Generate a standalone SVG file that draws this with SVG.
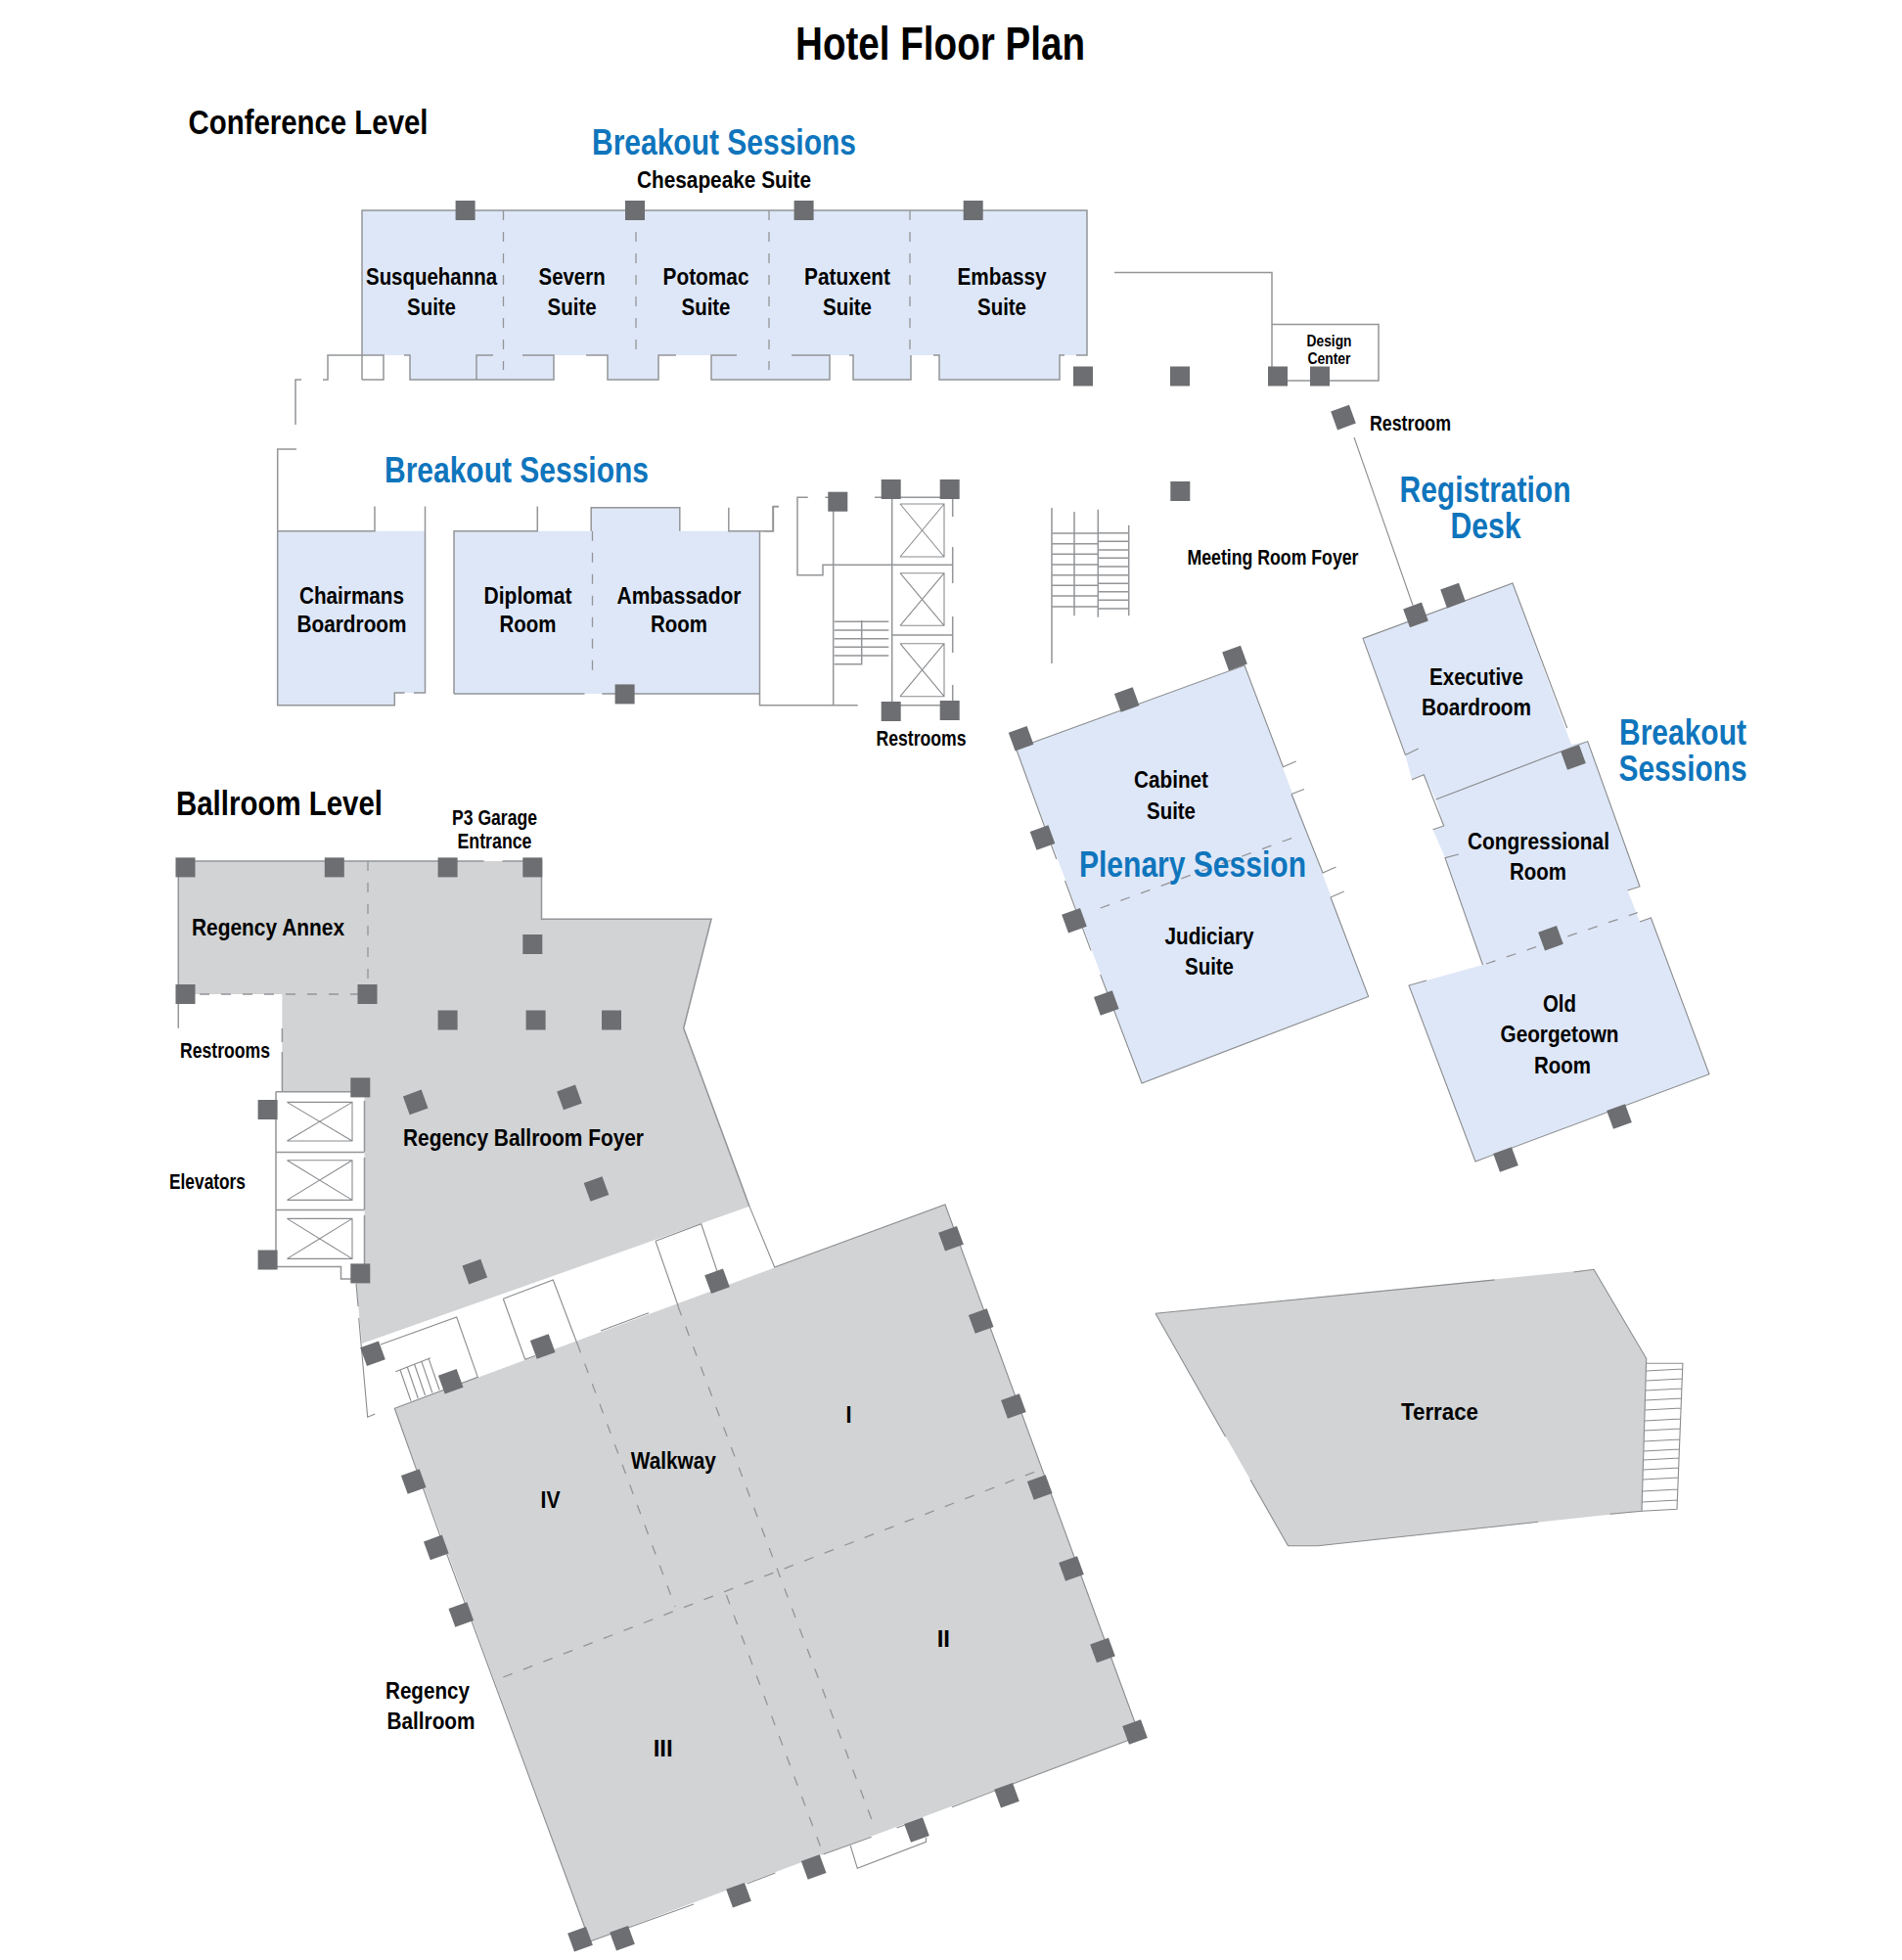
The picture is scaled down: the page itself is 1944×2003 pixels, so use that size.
<svg xmlns="http://www.w3.org/2000/svg" xmlns:xlink="http://www.w3.org/1999/xlink" width="1944" height="2003" viewBox="0 0 1944 2003">
<style>
.blue{fill:#dee7f7;stroke:none}
.gray{fill:#d1d3d4;stroke:none}
.w{fill:none;stroke:#939598;stroke-width:1.5}
.n{fill:none;stroke:#8a8c8f;stroke-width:1.1}
.d{fill:none;stroke:#939598;stroke-width:1.3;stroke-dasharray:10 12}
.col{fill:#6d6e71}
text{font-family:"Liberation Sans",Arial,sans-serif;font-weight:bold;text-anchor:middle;fill:#000}
.l{font-size:24px}
.s{font-size:22px}
.xs{font-size:17px}
.h{font-size:35px}
.b{font-size:36px;fill:#0f75bc}
.t{font-size:48px}
</style>
<defs><rect id="c" x="-10" y="-10" width="20" height="20" class="col"/></defs>
<rect width="1944" height="2003" fill="#fff"/>

<g id="conference-fills">
<path class="blue" d="M370 215H1111V363H1083V388H960V363H931V388H872V363H848V388H727V363H673V388H621V363H566V388H419V363H370Z"/>
<path class="blue" d="M283.700 542.800H434.500V708H403.300V720.800H283.700Z"/>
<path class="blue" d="M464 542.800H604.200V518.800H694.800V542.800H776.500V709H464Z"/>
<path class="blue" d="M1393 652.400L1546 596L1606 761L1622.700 757.600L1676 906L1663.500 910L1676 942L1687.400 938L1747 1097.700L1508 1187L1440 1007L1515.500 986L1477 876.700L1464.500 847.700L1475.700 844L1467.600 817L1455.300 791.700L1443 796.700L1436.400 771.500Z"/>
<path class="blue" d="M1038.500 765L1272 680L1398.700 1018.500L1167 1107Z"/>
</g>
<g id="ballroom-fills">
<path class="gray" d="M182.300 880H553.500V939.300H727L698.700 1050.700L766 1232.900L370 1373L364 1311.700L372.500 1297V1115.700H288.400V1016H182.300Z"/>
<path class="gray" d="M403.300 1439.300L966 1231L1165 1774L603 1984Z"/>
<path class="gray" d="M1181 1342.300L1629 1297.300L1682.700 1388.300L1678 1544.300L1347 1579.700H1316.500Z"/>
</g>

<g id="connectors">
<path class="w" d="M370 388V215H1111V363H1100M1088 363H1083V388H960V363H954M931 363V388H872V363H868M809 363H848V388H727V363H753M691 363H673V388H621V363H599M534 363H566V388H419V363H413M504 363H487V388M330 388H335V363H392V388H370M302 434V388H308"/>
<path class="w" d="M303 459H283.700V720.800H403.300V708H413.600M423 708H434.500V517.500M283.700 542.800H383V517.500"/>
<path class="w" d="M464 709V542.800H549.300V517.500M604.200 542.800V518.800H694.800V542.800M744.800 518.800V542.800H790.400V517.500H796M776.500 542.800V720.800H876.700M464 709H597.500M615.400 709H630M648 709H776.500"/>
<path class="w" d="M780 542.700H790V517.700H795.700M825.700 508.300H815V587.700H841V577.300H973.300M843.300 508.300H848M851.700 512V720.700M894 508.300H980M911.700 508.300V720.700M911.700 720.700H980M973.700 508V528M973.700 559V596M973.700 630V667M973.700 700V720.700M911.700 649H973.700"/>
<path class="n" d="M920 515H965V569H920M920 515L965 569M965 515L920 569M920 585.700H965V639.300H920M920 585.700L965 639.300M965 585.700L920 639.300M920 657.700H965V711.700H920M920 657.700L965 711.700M965 657.700L920 711.700"/>
<path class="w" d="M852.700 635.300H908.300M852.700 644H908.300M852.700 652.700H908.300M852.700 661.300H908.300M852.700 670H908.300M852.700 678.700H880.700V634"/>
<path class="w" d="M1075 519V678M1098 523V629.300M1122.300 520.700V630.700M1153.700 536.700V629.300M1075 545H1122.300M1075 555.700H1122.300M1075 566.300H1122.300M1075 577H1122.300M1075 587.700H1122.300M1075 598.300H1122.300M1075 609H1122.300M1075 620H1122.300M1122.300 544.700H1153.700M1122.300 553.300H1153.700M1122.300 562H1153.700M1122.300 570.300H1153.700M1122.300 579H1153.700M1122.300 587.700H1153.700M1122.300 596.300H1153.700M1122.300 604.700H1153.700M1122.300 613.300H1153.700M1122.300 622H1153.700"/>
<path class="w" d="M1139 278.500H1300V386M1300 331.500H1409V389H1300"/>
<path class="n" d="M1384 447L1444 618.500"/>
<path class="n" d="M1436.400 771.500L1393 652.400L1546 596L1601.700 744M1436.400 771.500L1449.700 765M1443 796.700L1455.300 791.700L1475.700 844L1464.500 847.700M1467.600 817L1622.700 757.600L1676 906L1663.500 910M1491 873L1477 876.700L1515.500 986M1676 942L1687.400 938L1747 1097.700L1508 1187L1440 1007L1458 1002"/>
<path class="n" d="M1079.800 878L1038.500 765L1272 680L1311.400 783.700L1324.700 778M1320 811.500L1333 806.400M1320 811.500L1352 892L1365.500 886M1360 917L1373.700 911M1360 917L1398.700 1018.500L1167 1107L1124.700 996M1115 971.400L1088.500 900"/>
<path class="d" d="M514.500 215V378M650 215V363M786 215V378M930 215V363M605.500 542.800V693M1124.700 928L1321.600 856M1519 985L1673.700 932.700"/>
<path class="w" d="M494.600 880H182.300V1050.700M513.500 880H553.500V939.300H727L698.700 1050.700L766 1232.900"/>
<path class="d" d="M376 880V1007M204 1016H366"/>
<path class="w" d="M288.400 1051V1065M288.400 1075V1115.700M282 1115.700H372.500M282 1115.700V1294.600H348.500V1307H362M282 1177.500H372.500M282 1236.400H372.500M372.500 1125V1177M372.500 1183V1236M372.500 1242V1297"/>
<path class="n" d="M293.400 1126.400H360V1166H293.400M293.400 1126.400L360 1166M360 1126.400L293.400 1166M293.400 1185.700H360V1226.400H293.400M293.400 1185.700L360 1226.400M360 1185.700L293.400 1226.400M293.400 1245.400H360V1286.400H293.400M293.400 1245.400L360 1286.400M360 1245.400L293.400 1286.400"/>
<path class="n" d="M389 1374L466.700 1346L488.300 1407.300L403.300 1439.300L450 1570L603 1984M514.300 1327.300L565.300 1308L590 1373.300M514.300 1327.300L536.700 1389.300L547 1385.500M670 1268.300L716.700 1250.700L733.300 1300M670 1268.300L693.300 1335M766 1232.900L791.700 1295L966 1231L1165 1774L1035.700 1822.700L973 1846.700M614 1360L663 1341.700M364 1311.700L366 1335M366.700 1346.700L375.700 1448.300L383.300 1445"/>
<path class="n" d="M603 1984L709 1946M763.400 1925L792.400 1914M841.500 1895L890.600 1877.300M916.500 1868L926 1864.500M869.200 1886L876.300 1909.300L946.400 1882.300V1878"/>
<path class="n" d="M404.300 1401.700L440 1387.700M409 1400L420 1431.700M416.300 1397L427.300 1429M423.600 1394.200L434.600 1426M430.900 1391.400L441.900 1423.500M438.200 1388.600L449.200 1420.500"/>
<path class="d" d="M590 1373L690 1642M742.400 1630L841.500 1895M693 1335L893 1865M514.300 1714L1066.500 1500.700"/>
<path class="n" d="M1181 1342.300L1527.700 1308M1608.500 1300L1629 1297.300L1682.700 1388.300L1678 1544.300L1645.600 1547.300M1572 1555.300L1347 1579.700H1316.500L1278 1512.300M1252.600 1468.300L1181 1342.300"/>
<path class="n" d="M1682.700 1393.300H1719.900L1714 1542.300L1678 1544.300M1682.500 1401L1719.700 1399M1682.200 1411L1719.300 1409M1681.900 1421L1718.900 1419M1681.600 1431L1718.500 1429M1681.300 1441L1718.100 1439M1680.900 1452L1717.600 1450M1680.600 1462L1717.200 1460M1680.300 1473L1716.800 1471M1680 1483L1716.400 1481M1679.700 1492L1716 1490M1679.400 1502L1715.700 1500M1679.100 1512L1715.300 1510M1678.700 1524L1714.800 1522M1678.400 1535L1714.300 1533"/>
</g>

<g id="columns">
<use href="#c" x="475.600" y="215"/><use href="#c" x="649" y="215"/><use href="#c" x="821.600" y="215"/><use href="#c" x="994.700" y="215"/>
<use href="#c" x="1107" y="384.500"/><use href="#c" x="1206" y="384.500"/><use href="#c" x="1306" y="384.500"/><use href="#c" x="1349" y="384.500"/>
<use href="#c" x="856.300" y="512.700"/><use href="#c" x="910.700" y="500"/><use href="#c" x="970.700" y="500"/><use href="#c" x="910.700" y="727"/><use href="#c" x="970.700" y="726"/>
<use href="#c" x="1206.300" y="502"/><use href="#c" x="638.600" y="709.400"/>
<use href="#c" transform="translate(1373 426.600) rotate(-20)"/>
<use href="#c" transform="translate(1447 628.400) rotate(-20)"/><use href="#c" transform="translate(1485 608.600) rotate(-20)"/><use href="#c" transform="translate(1608 774) rotate(-20)"/><use href="#c" transform="translate(1585 958.800) rotate(-20)"/><use href="#c" transform="translate(1655 1141) rotate(-20)"/><use href="#c" transform="translate(1539 1185) rotate(-20)"/>
<use href="#c" transform="translate(1043.600 754.700) rotate(-20)"/><use href="#c" transform="translate(1151.700 715) rotate(-20)"/><use href="#c" transform="translate(1262 672.600) rotate(-20)"/><use href="#c" transform="translate(1065.500 856) rotate(-20)"/><use href="#c" transform="translate(1098 940.700) rotate(-20)"/><use href="#c" transform="translate(1130.800 1025) rotate(-20)"/>
<use href="#c" x="189.500" y="886.400"/><use href="#c" x="341.800" y="886.400"/><use href="#c" x="457.600" y="886.400"/><use href="#c" x="544.300" y="886.400"/><use href="#c" x="544.300" y="965"/><use href="#c" x="189.500" y="1016"/><use href="#c" x="375.500" y="1016"/><use href="#c" x="457.600" y="1042.500"/><use href="#c" x="547.600" y="1042.500"/><use href="#c" x="625" y="1042.500"/><use href="#c" x="368.300" y="1111.400"/><use href="#c" x="273.600" y="1134"/><use href="#c" x="273.600" y="1287.500"/><use href="#c" x="368.300" y="1301.400"/>
<use href="#c" transform="translate(424.700 1126.400) rotate(-20)"/><use href="#c" transform="translate(582 1121.400) rotate(-20)"/><use href="#c" transform="translate(609.500 1215) rotate(-20)"/><use href="#c" transform="translate(485.300 1299.600) rotate(-20)"/><use href="#c" transform="translate(733 1309.300) rotate(-20)"/><use href="#c" transform="translate(554.700 1376) rotate(-20)"/><use href="#c" transform="translate(381 1383.300) rotate(-20)"/><use href="#c" transform="translate(460.700 1411.700) rotate(-20)"/>
<use href="#c" transform="translate(422.700 1514) rotate(-20)"/><use href="#c" transform="translate(445.800 1581.400) rotate(-20)"/><use href="#c" transform="translate(471.300 1650) rotate(-20)"/>
<use href="#c" transform="translate(972 1265.800) rotate(-20)"/><use href="#c" transform="translate(1002.700 1350) rotate(-20)"/><use href="#c" transform="translate(1035.900 1437) rotate(-20)"/><use href="#c" transform="translate(1062.700 1520) rotate(-20)"/><use href="#c" transform="translate(1095 1603) rotate(-20)"/><use href="#c" transform="translate(1127 1686.500) rotate(-20)"/><use href="#c" transform="translate(1160 1770) rotate(-20)"/>
<use href="#c" transform="translate(1029 1834.700) rotate(-20)"/><use href="#c" transform="translate(937 1870) rotate(-20)"/><use href="#c" transform="translate(831.700 1908) rotate(-20)"/><use href="#c" transform="translate(755 1936.700) rotate(-20)"/><use href="#c" transform="translate(636 1980.700) rotate(-20)"/><use href="#c" transform="translate(593 1981.700) rotate(-20)"/>
</g>

<g id="titles">
<text class="t" x="961" y="60.500" textLength="296" lengthAdjust="spacingAndGlyphs">Hotel Floor Plan</text>
<text class="h" x="315" y="136.500" textLength="245" lengthAdjust="spacingAndGlyphs">Conference Level</text>
<text class="h" x="285.500" y="832.500" textLength="211" lengthAdjust="spacingAndGlyphs">Ballroom Level</text>
</g>
<g id="section-labels">
<text class="b" x="740" y="157.500" textLength="270" lengthAdjust="spacingAndGlyphs">Breakout Sessions</text>
<text class="b" x="528" y="492.500" textLength="270" lengthAdjust="spacingAndGlyphs">Breakout Sessions</text>
<text class="b" x="1518" y="513" textLength="175" lengthAdjust="spacingAndGlyphs">Registration</text>
<text class="b" x="1518.500" y="550" textLength="72" lengthAdjust="spacingAndGlyphs">Desk</text>
<text class="b" x="1720" y="761" textLength="130" lengthAdjust="spacingAndGlyphs">Breakout</text>
<text class="b" x="1720" y="798" textLength="131" lengthAdjust="spacingAndGlyphs">Sessions</text>
<text class="b" x="1219" y="895.500" textLength="232" lengthAdjust="spacingAndGlyphs">Plenary Session</text>
</g>
<g id="room-labels">
<text class="l" x="740" y="191.500" textLength="178" lengthAdjust="spacingAndGlyphs">Chesapeake Suite</text>
<g id="susquehanna-suite"><text class="l" x="441" y="290.500" textLength="134" lengthAdjust="spacingAndGlyphs">Susquehanna</text><text class="l" x="441" y="322" textLength="50" lengthAdjust="spacingAndGlyphs">Suite</text></g>
<g id="severn-suite"><text class="l" x="584.600" y="290.500" textLength="68" lengthAdjust="spacingAndGlyphs">Severn</text><text class="l" x="584.600" y="322" textLength="50" lengthAdjust="spacingAndGlyphs">Suite</text></g>
<g id="potomac-suite"><text class="l" x="721.500" y="290.500" textLength="88" lengthAdjust="spacingAndGlyphs">Potomac</text><text class="l" x="721.500" y="322" textLength="50" lengthAdjust="spacingAndGlyphs">Suite</text></g>
<g id="patuxent-suite"><text class="l" x="866" y="290.500" textLength="88" lengthAdjust="spacingAndGlyphs">Patuxent</text><text class="l" x="866" y="322" textLength="50" lengthAdjust="spacingAndGlyphs">Suite</text></g>
<g id="embassy-suite"><text class="l" x="1024" y="290.500" textLength="91" lengthAdjust="spacingAndGlyphs">Embassy</text><text class="l" x="1024" y="322" textLength="50" lengthAdjust="spacingAndGlyphs">Suite</text></g>
<g id="design-center"><text class="xs" x="1358.500" y="353.500" textLength="46" lengthAdjust="spacingAndGlyphs">Design</text><text class="xs" x="1358.500" y="371.500" textLength="44" lengthAdjust="spacingAndGlyphs">Center</text></g>
<text class="s" x="1441.500" y="439.500" textLength="83" lengthAdjust="spacingAndGlyphs">Restroom</text>
<text class="s" x="1301" y="577" textLength="175" lengthAdjust="spacingAndGlyphs">Meeting Room Foyer</text>
<text class="s" x="941.500" y="761.500" textLength="92" lengthAdjust="spacingAndGlyphs">Restrooms</text>
<g id="chairmans"><text class="l" x="359.500" y="617" textLength="107" lengthAdjust="spacingAndGlyphs">Chairmans</text><text class="l" x="359.500" y="646" textLength="112" lengthAdjust="spacingAndGlyphs">Boardroom</text></g>
<g id="diplomat"><text class="l" x="539.500" y="617" textLength="90" lengthAdjust="spacingAndGlyphs">Diplomat</text><text class="l" x="539.500" y="646" textLength="58" lengthAdjust="spacingAndGlyphs">Room</text></g>
<g id="ambassador"><text class="l" x="694" y="617" textLength="127" lengthAdjust="spacingAndGlyphs">Ambassador</text><text class="l" x="694" y="646" textLength="58" lengthAdjust="spacingAndGlyphs">Room</text></g>
<g id="executive"><text class="l" x="1509" y="699.500" textLength="96" lengthAdjust="spacingAndGlyphs">Executive</text><text class="l" x="1509" y="731" textLength="112" lengthAdjust="spacingAndGlyphs">Boardroom</text></g>
<g id="cabinet"><text class="l" x="1197" y="805" textLength="76" lengthAdjust="spacingAndGlyphs">Cabinet</text><text class="l" x="1197" y="836.500" textLength="50" lengthAdjust="spacingAndGlyphs">Suite</text></g>
<g id="judiciary"><text class="l" x="1236" y="965" textLength="91" lengthAdjust="spacingAndGlyphs">Judiciary</text><text class="l" x="1236" y="996" textLength="50" lengthAdjust="spacingAndGlyphs">Suite</text></g>
<g id="congressional"><text class="l" x="1572.500" y="867.500" textLength="145" lengthAdjust="spacingAndGlyphs">Congressional</text><text class="l" x="1572" y="899" textLength="58" lengthAdjust="spacingAndGlyphs">Room</text></g>
<g id="old-georgetown"><text class="l" x="1594" y="1033.500" textLength="34" lengthAdjust="spacingAndGlyphs">Old</text><text class="l" x="1594" y="1065" textLength="121" lengthAdjust="spacingAndGlyphs">Georgetown</text><text class="l" x="1597" y="1097" textLength="58" lengthAdjust="spacingAndGlyphs">Room</text></g>
<g id="p3-garage"><text class="s" x="505.500" y="842.500" textLength="87" lengthAdjust="spacingAndGlyphs">P3 Garage</text><text class="s" x="505.500" y="867" textLength="76" lengthAdjust="spacingAndGlyphs">Entrance</text></g>
<text class="l" x="274" y="955.500" textLength="156" lengthAdjust="spacingAndGlyphs">Regency Annex</text>
<text class="s" x="230" y="1081" textLength="92" lengthAdjust="spacingAndGlyphs">Restrooms</text>
<text class="s" x="212" y="1214.500" textLength="78" lengthAdjust="spacingAndGlyphs">Elevators</text>
<text class="l" x="535" y="1171" textLength="246" lengthAdjust="spacingAndGlyphs">Regency Ballroom Foyer</text>
<text class="l" x="688.300" y="1501" textLength="87" lengthAdjust="spacingAndGlyphs">Walkway</text>
<text class="l" x="867.500" y="1454" textLength="6" lengthAdjust="spacingAndGlyphs">I</text>
<text class="l" x="562.500" y="1541" textLength="20" lengthAdjust="spacingAndGlyphs">IV</text>
<text class="l" x="964.300" y="1683">II</text>
<text class="l" x="677.700" y="1795">III</text>
<g id="regency-ballroom"><text class="l" x="437" y="1736" textLength="86" lengthAdjust="spacingAndGlyphs">Regency</text><text class="l" x="440.500" y="1767" textLength="90" lengthAdjust="spacingAndGlyphs">Ballroom</text></g>
<text class="l" x="1471.500" y="1451" textLength="79" lengthAdjust="spacingAndGlyphs">Terrace</text>
</g>
</svg>
